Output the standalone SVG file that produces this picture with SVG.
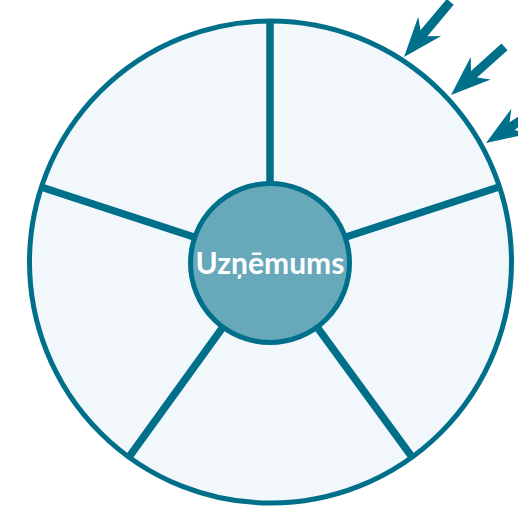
<svg xmlns="http://www.w3.org/2000/svg" width="518" height="508" viewBox="0 0 518 508">
<style>
.ring{fill:#f1f7fa;stroke:#00708a;stroke-width:5}
.hub{fill:#67a9ba;stroke:#00708a;stroke-width:5}
.spoke{stroke:#00708a;stroke-width:7.5;fill:none}
.arrow{fill:#00708a}
.label{font-family:Lato,"Open Sans","DejaVu Sans",sans-serif;font-weight:700;font-size:30px;fill:#ffffff}
</style>
<defs>
<path id="arr" d="M0,0 L40,-15 L31,-4.5 L72,-4.5 L72,4.5 L31,4.5 L40,15 Z"/>
</defs>
<g id="outer">
<circle class="ring" cx="270.5" cy="262" r="241"/>
</g>
<g id="connectors">
<line class="spoke" x1="270" y1="22" x2="270" y2="185"/>
<line class="spoke" x1="499" y1="187" x2="346" y2="237"/>
<line class="spoke" x1="412" y1="457" x2="317" y2="327"/>
<line class="spoke" x1="129" y1="457" x2="223" y2="327"/>
<line class="spoke" x1="41" y1="187" x2="194" y2="237"/>
<g class="arrow">
<use href="#arr" transform="translate(404,57) rotate(-50)"/>
<use href="#arr" transform="translate(451,95) rotate(-42)"/>
<use href="#arr" transform="translate(486,143) rotate(-33)"/>
</g>
</g>
<g id="hub">
<circle class="hub" cx="270" cy="263" r="79.5"/>
<text class="label" x="270" y="274" text-anchor="middle">Uzņēmums</text>
</g>
</svg>
